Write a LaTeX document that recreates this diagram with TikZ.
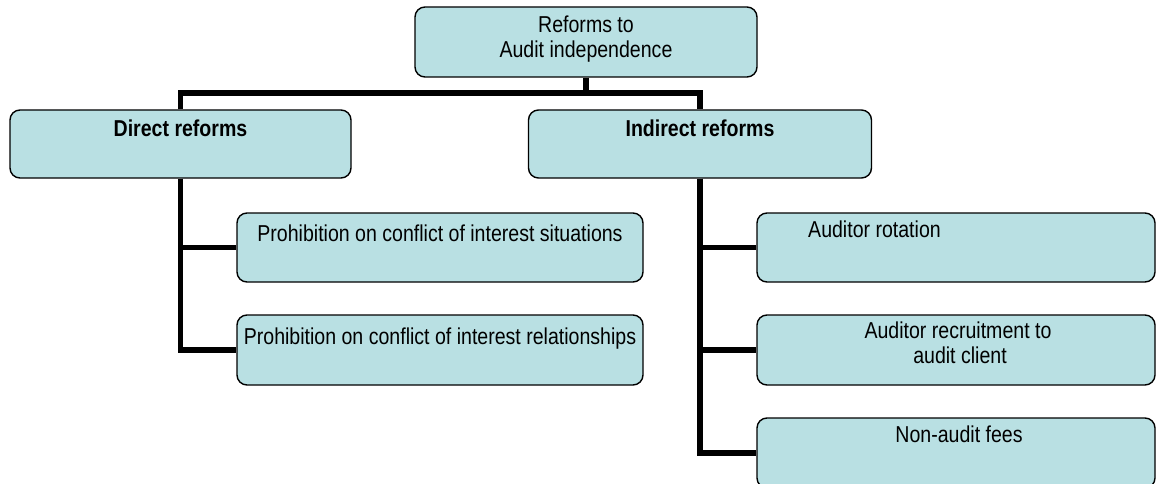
\documentclass[tikz,border=0pt]{standalone}
\usepackage{fontspec}
\setmainfont{Liberation Sans}[FakeStretch=0.85]
\definecolor{boxfill}{RGB}{185,224,227}
\begin{document}
\begin{tikzpicture}[x=1pt,y=-1pt,
  box/.style={draw=black, line width=1.4pt, fill=boxfill, rounded corners=10pt, inner sep=0pt},
  conn/.style={draw=black, line width=5.5pt},
  txt/.style={inner sep=0pt, font=\fontsize{23}{26}\selectfont, anchor=base},
  btxt/.style={txt, font=\fontsize{23}{26}\selectfont\bfseries}]
\useasboundingbox (0,0) rectangle (1156,484);
% boxes
\node[box, minimum width=342pt, minimum height=70pt] (top) at (586,42) {};
\node[box, minimum width=341pt, minimum height=68pt] (direct) at (180.5,144) {};
\node[box, minimum width=343pt, minimum height=68pt] (indirect) at (700,144) {};
\node[box, minimum width=406pt, minimum height=69pt] (p1) at (440,247.5) {};
\node[box, minimum width=406pt, minimum height=70pt] (p2) at (440,350) {};
\node[box, minimum width=398pt, minimum height=69pt] (r1) at (956,247.5) {};
\node[box, minimum width=398pt, minimum height=70pt] (r2) at (956,350) {};
\node[box, minimum width=398pt, minimum height=70pt] (r3) at (956,453) {};
% connectors
\coordinate (hub) at (586,93);
\draw[conn] (top.south) -- (hub);
\draw[conn] (direct.north) |- (hub) -| (indirect.north);
\draw[conn] (direct.south) |- (p1.west);
\draw[conn] (direct.south) |- (p2.west);
\draw[conn] (indirect.south) |- (r1.west);
\draw[conn] (indirect.south) |- (r2.west);
\draw[conn] (indirect.south) |- (r3.west);
% texts
\node[txt] (t1) at (586,33) {Reforms to};
\node[txt] (t2) at (586,57.5) {Audit independence};
\node[btxt] (t3) at (180.5,136) {Direct reforms};
\node[btxt] (t4) at (700,136) {Indirect reforms};
\node[txt] (t5) at (440,241) {Prohibition on conflict of interest situations};
\node[txt] (t6) at (440,344) {Prohibition on conflict of interest relationships};
\node[txt, anchor=base west] (t7) at (808,237) {Auditor rotation};
\node[txt] (t8) at (958,338) {Auditor recruitment to};
\node[txt] (t9) at (960,363) {audit client};
\node[txt] (t10) at (959,442) {Non-audit fees};
\end{tikzpicture}
\end{document}
